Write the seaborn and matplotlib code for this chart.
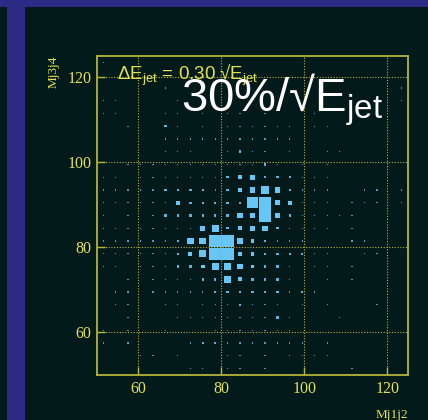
import matplotlib
matplotlib.use('Agg')
import matplotlib.pyplot as plt
import numpy as np
import pandas as pd
import seaborn as sns
from matplotlib.patches import Rectangle

BG = '#031a1a'
BAR = '#2c2a85'
FRAME = '#b4b43a'
TEXT_YEL = '#e2e24e'
BOX = '#66c6f5'

BIN_W = 3.0
LO, HI = 50, 125
bin_centres = np.arange(LO + BIN_W / 2, HI, BIN_W)  # 51.5 ... 123.5
ticks = [60, 80, 100, 120]

# box side per cell, 0..9 (9 = whole bin)
# one string per Mj3j4 row, bottom row (51.5) first, columns Mj1j2 51.5 -> 123.5
box_rows = [
    "0000000110110100000010000",
    "0001101000110101111000000",
    "1010000122111111101000000",
    "1010010001111111000000000",
    "0010001111111121000100000",
    "0110011011121110101000100",
    "0110111112222221210000000",
    "0010111122532221001010000",
    "1101112235543221011010000",
    "1111112359933222211001100",
    "1111112559943211100011000",
    "1111111145234421111010000",
    "1010122222244942111110000",
    "1111113222228943111011101",
    "1111122221234642111001101",
    "1101111111234222111000000",
    "0011111111111210101000000",
    "0000011100121101001100000",
    "0000011111111111000000000",
    "0010021010111111011000000",
    "1100011010110100010000100",
    "1100001000000000000000101",
    "0000010000000000000000001",
    "0000000000000000000000000",
    "1000000000000000000000000",
]

recs = []
for j, row in enumerate(box_rows):
    for i, ch in enumerate(row):
        if ch != '0':
            recs.append((bin_centres[i], bin_centres[j], int(ch)))
df = pd.DataFrame(recs, columns=['mj1j2', 'mj3j4', 'side'])

sns.set_style('dark')
plt.rcParams['font.family'] = ['Liberation Sans', 'DejaVu Sans']
plt.rcParams['mathtext.fontset'] = 'custom'
plt.rcParams['mathtext.rm'] = 'Liberation Sans'

W, H = 428, 420
fig = plt.figure(figsize=(W / 100, H / 100), dpi=100, facecolor=BG)
# blue slide decoration
fig.patches.append(Rectangle((0, 1 - 7 / H), 1, 7 / H, transform=fig.transFigure,
                             facecolor=BAR, edgecolor='none', zorder=0))
fig.patches.append(Rectangle((7 / W, 0), 18 / W, 1, transform=fig.transFigure,
                             facecolor=BAR, edgecolor='none', zorder=0))

ax = fig.add_axes([97 / W, 1 - 375 / H, 311 / W, 319 / H])
ax.set_facecolor(BG)
ax.set_xlim(LO, HI)
ax.set_ylim(LO, HI)

bin_pt = 311 / (HI - LO) * BIN_W * 72 / 100
sizes = {k: (max(k - 0.3, 0.85) / 8.7 * bin_pt) ** 2 for k in range(1, 10)}
palette = {k: BOX for k in range(1, 10)}
palette[1] = '#4f98b8'
palette[2] = '#5cb2dc'
sns.scatterplot(data=df, x='mj1j2', y='mj3j4', size='side', sizes=sizes, hue='side',
                palette=palette, marker='s', linewidth=0, legend=False, ax=ax, zorder=1)

ax.set_xticks(ticks)
ax.set_yticks(ticks)
ax.set_axisbelow(False)
ax.grid(True, color=FRAME, linestyle=(0, (1, 1.5)), linewidth=0.8)
for s in ax.spines.values():
    s.set_color(FRAME)
    s.set_linewidth(1.3)
ax.tick_params(direction='in', length=6, width=1, color=FRAME, labelcolor=TEXT_YEL,
               labelsize=11.5, pad=4, bottom=True, left=True)
for lab in ax.get_xticklabels() + ax.get_yticklabels():
    lab.set_family('Liberation Serif')

ax.set_xlabel('Mj1j2', loc='right', color=TEXT_YEL, family='Liberation Serif',
              fontsize=9.5, labelpad=9)
ax.set_ylabel('Mj3j4', loc='top', color=TEXT_YEL, family='Liberation Serif',
              fontsize=9.5, labelpad=6)

fig.text(117 / W, 1 - 80 / H, r'ΔE$_\mathrm{jet}$ = 0.30 √E$_\mathrm{jet}$',
         color=TEXT_YEL, fontsize=13.5, va='baseline', ha='left')
fig.text(181 / W, 1 - 111 / H, r'30%/√E$_\mathrm{jet}$',
         color='white', fontsize=34, va='baseline', ha='left')

fig.savefig('out.png', dpi=100, facecolor=BG)
